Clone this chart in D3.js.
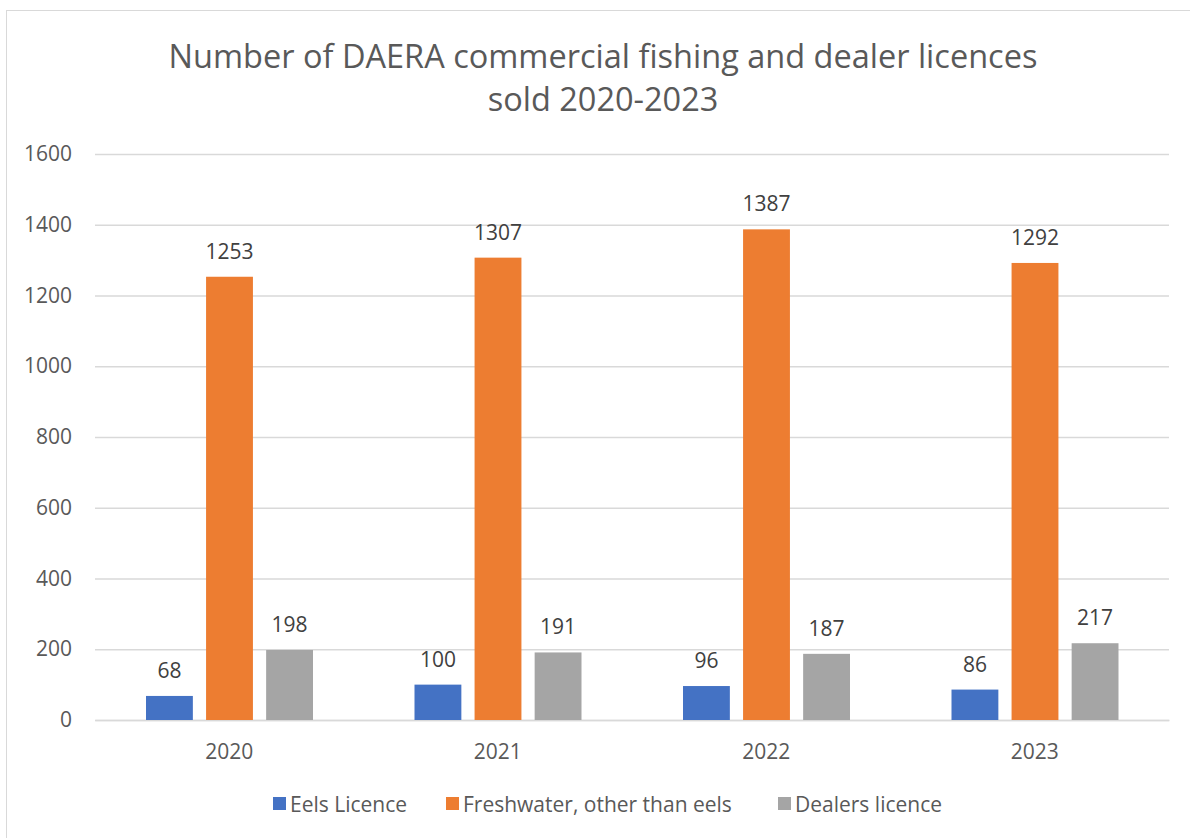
<!DOCTYPE html>
<html><head><meta charset="utf-8">
<script src="https://cdn.jsdelivr.net/npm/d3@7"></script>
<style>body{margin:0;background:#fff}svg{display:block;font-family:"Open Sans","Noto Sans",sans-serif}</style>
</head><body><svg id="c" width="1190" height="838"></svg>
<script>
const categories = ["2020","2021","2022","2023"];
const seriesNames = ["Eels Licence","Freshwater, other than eels","Dealers licence"];
const eels = [68,100,96,86];
const freshwater = [1253,1307,1387,1292];
const dealers = [198,191,187,217];
const yTicks = [0,200,400,600,800,1000,1200,1400,1600];
const colors = ["#4472C4","#ED7D31","#A5A5A5"];
const series = [eels, freshwater, dealers];

const svg = d3.select("#c");
svg.append("rect").attr("x",6.5).attr("y",10.5).attr("width",1200).attr("height",840)
  .attr("fill","#fff").attr("stroke","#D9D9D9").attr("stroke-width",1);

const title = svg.append("text").attr("text-anchor","middle").attr("fill","#595959").attr("font-size",32.5);
title.append("tspan").attr("x",603).attr("y",68).text("Number of DAERA commercial fishing and dealer licences");
title.append("tspan").attr("x",603).attr("y",111).text("sold 2020-2023");

const x0 = d3.scaleBand().domain(categories).range([95,1169]).paddingInner(0).paddingOuter(0);
const x1 = d3.scaleBand().domain(d3.range(3)).range([51,218]).paddingInner(0.22);
const y = d3.scaleLinear().domain([0,1600]).range([720,154]);

const yAxis = d3.axisLeft(y).tickValues(yTicks).tickFormat(d3.format("d")).tickSize(-(1169-95)).tickPadding(23);
const gy = svg.append("g").attr("transform","translate(95,0)").call(yAxis);
gy.select(".domain").remove();
gy.selectAll(".tick line").attr("stroke","#D9D9D9").attr("stroke-width",1.5);
gy.selectAll(".tick text").attr("fill","#595959").attr("font-size",21).attr("font-family","'Open Sans',sans-serif");

const xAxis = d3.axisBottom(x0).tickSize(0).tickPadding(24);
const gx = svg.append("g").attr("transform","translate(0,720)").call(xAxis);
gx.select(".domain").attr("stroke","#D9D9D9").attr("stroke-width",1.5);
gx.selectAll(".tick text").attr("fill","#595959").attr("font-size",21).attr("font-family","'Open Sans',sans-serif");

series.forEach((vals, si) => {
  const g = svg.append("g");
  g.selectAll("rect").data(vals).enter().append("rect")
    .attr("x",(d,i)=>x0(categories[i])+x1(si))
    .attr("width",x1.bandwidth())
    .attr("y",d=>y(d)).attr("height",d=>720-y(d))
    .attr("fill",colors[si]);
  g.selectAll("text").data(vals).enter().append("text")
    .attr("x",(d,i)=>x0(categories[i])+x1(si)+x1.bandwidth()/2)
    .attr("y",d=>y(d)-18)
    .attr("text-anchor","middle").attr("fill","#404040").attr("font-size",21)
    .text(d=>d);
});

// legend
const legend = svg.append("g");
const legX = [273, 446, 778];
seriesNames.forEach((n,i)=>{
  legend.append("rect").attr("x",legX[i]).attr("y",797).attr("width",13).attr("height",13).attr("fill",colors[i]);
  legend.append("text").attr("x",legX[i]+17).attr("y",811.5).attr("fill","#595959").attr("font-size",21).text(n);
});
</script></body></html>
